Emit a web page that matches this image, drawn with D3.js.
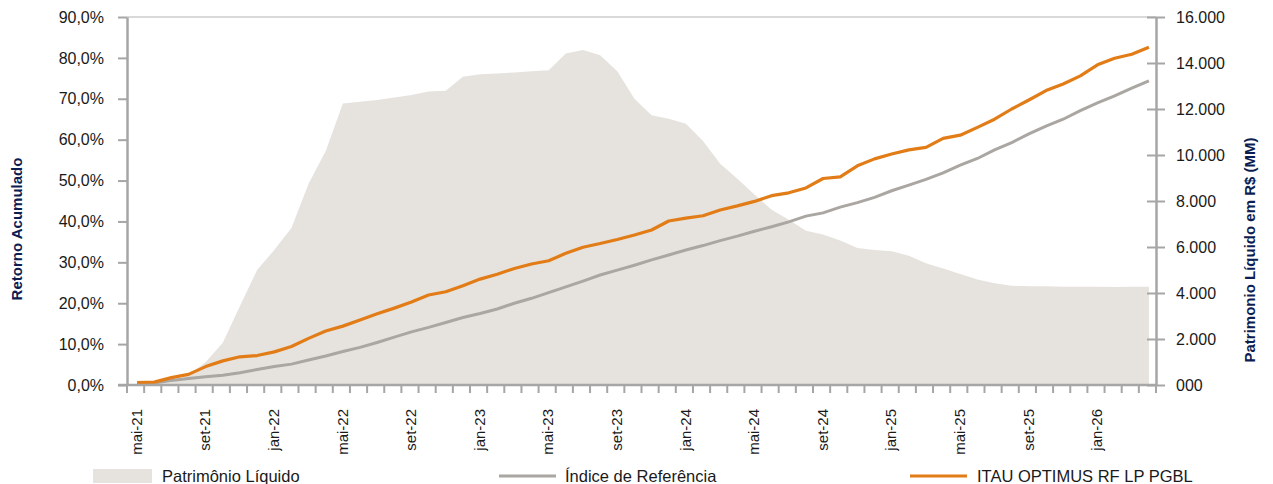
<!DOCTYPE html>
<html>
<head>
<meta charset="utf-8">
<script src="https://cdn.jsdelivr.net/npm/d3@7"></script>
<style>
  body { margin: 0; background: #fff; }
  svg text { font-family: "Liberation Sans", Arial, sans-serif; }
</style>
</head>
<body>
<div id="chart"></div>
<script>
// months (category axis)
var months = ["mai-21","jun-21","jul-21","ago-21","set-21","out-21","nov-21","dez-21",
  "jan-22","fev-22","mar-22","abr-22","mai-22","jun-22","jul-22","ago-22","set-22","out-22","nov-22","dez-22",
  "jan-23","fev-23","mar-23","abr-23","mai-23","jun-23","jul-23","ago-23","set-23","out-23","nov-23","dez-23",
  "jan-24","fev-24","mar-24","abr-24","mai-24","jun-24","jul-24","ago-24","set-24","out-24","nov-24","dez-24",
  "jan-25","fev-25","mar-25","abr-25","mai-25","jun-25","jul-25","ago-25","set-25","out-25","nov-25","dez-25",
  "jan-26","fev-26","mar-26","abr-26"];

// Patrimonio Liquido, R$ MM (right axis)
var patrimonio = [20,40,120,420,1000,1840,3440,5000,5870,6830,8750,10170,12240,12320,12390,12500,12610,12760,12790,13400,
  13510,13540,13590,13640,13690,14410,14560,14340,13640,12450,11730,11580,11360,10610,9620,8970,8280,7620,7180,6710,
  6540,6280,5960,5870,5810,5620,5290,5070,4830,4590,4420,4320,4290,4290,4270,4270,4270,4260,4270,4270];

// Indice de Referencia, % acumulado
var indice = [0.2,0.5,1.1,1.6,2.0,2.4,3.0,3.8,4.5,5.1,6.1,7.1,8.2,9.2,10.4,11.7,13.0,14.1,15.3,16.5,
  17.5,18.6,20.0,21.2,22.6,24.0,25.4,26.9,28.1,29.3,30.6,31.8,33.0,34.1,35.3,36.4,37.6,38.7,39.9,41.3,
  42.1,43.5,44.6,45.9,47.5,48.9,50.3,51.9,53.8,55.4,57.5,59.3,61.4,63.3,65.0,67.1,69.0,70.7,72.6,74.4];

// ITAU OPTIMUS RF LP PGBL, % acumulado
var fundo = [0.6,0.7,1.8,2.6,4.5,5.9,6.9,7.2,8.1,9.4,11.4,13.2,14.4,15.9,17.4,18.8,20.3,22.0,22.8,24.3,
  25.9,27.1,28.5,29.6,30.4,32.2,33.7,34.6,35.6,36.7,37.9,40.1,40.8,41.4,42.8,43.8,44.9,46.3,47.0,48.2,
  50.5,50.9,53.6,55.3,56.5,57.5,58.1,60.3,61.1,63.0,65.0,67.5,69.7,72.0,73.6,75.6,78.3,79.9,80.9,82.6];

// tick labels
var leftTicks = [0,10,20,30,40,50,60,70,80,90];
var leftTickLabels = ["0,0%","10,0%","20,0%","30,0%","40,0%","50,0%","60,0%","70,0%","80,0%","90,0%"];
var rightTicks = [0,2000,4000,6000,8000,10000,12000,14000,16000];
var rightTickLabels = ["000","2.000","4.000","6.000","8.000","10.000","12.000","14.000","16.000"];

var W = 1273, H = 484;
var margin = {top: 17, right: 117, bottom: 99, left: 127};

var svg = d3.select("#chart").append("svg")
    .attr("width", W)
    .attr("height", H);

var x = d3.scaleBand()
    .domain(months)
    .range([margin.left, W - margin.right]);

var yL = d3.scaleLinear().domain([0, 90]).range([H - margin.bottom, margin.top]);
var yR = d3.scaleLinear().domain([0, 16000]).range([H - margin.bottom, margin.top]);

var cx = function(i) { return x(months[i]) + x.bandwidth() / 2 + 1.5; };

var axisColor = "#a6a6a6";

// top border line
svg.append("line")
    .attr("x1", margin.left).attr("x2", W - margin.right)
    .attr("y1", yL(90)).attr("y2", yL(90))
    .attr("stroke", "#d9d9d9").attr("stroke-width", 2);

// area - patrimonio
var area = d3.area()
    .x(function(d, i) { return cx(i); })
    .y0(yR(0))
    .y1(function(d) { return yR(d); });

svg.append("path")
    .datum(patrimonio)
    .attr("fill", "#e6e3df")
    .attr("d", area);

// lines
var lineL = d3.line()
    .x(function(d, i) { return cx(i); })
    .y(function(d) { return yL(d); });

svg.append("path")
    .datum(indice)
    .attr("fill", "none")
    .attr("stroke", "#aaa6a1")
    .attr("stroke-width", 3)
    .attr("d", lineL);

svg.append("path")
    .datum(fundo)
    .attr("fill", "none")
    .attr("stroke", "#e27c16")
    .attr("stroke-width", 3.2)
    .attr("stroke-linejoin", "round")
    .attr("d", lineL);

// left axis
var gL = svg.append("g")
    .attr("transform", "translate(" + margin.left + ",0)")
    .call(d3.axisLeft(yL).tickValues(leftTicks).tickSizeOuter(0).tickSizeInner(9).tickPadding(14)
        .tickFormat(function(d, i) { return leftTickLabels[i]; }));

// right axis
var gR = svg.append("g")
    .attr("transform", "translate(" + (W - margin.right) + ",0)")
    .call(d3.axisRight(yR).tickValues(rightTicks).tickSizeOuter(0).tickSizeInner(9).tickPadding(11)
        .tickFormat(function(d, i) { return rightTickLabels[i]; }));
gR.selectAll(".tick line").attr("x1", -9);

[gL, gR].forEach(function(g) {
    g.select(".domain").attr("stroke", axisColor).attr("stroke-width", 2.5);
    g.selectAll(".tick line").attr("stroke", axisColor).attr("stroke-width", 2);
    g.selectAll(".tick text").attr("font-size", "16px").attr("fill", "#1a1a1a");
});

// bottom axis: baseline + ticks on band boundaries
var xb = svg.append("g");
xb.append("line")
    .attr("x1", margin.left - 9).attr("x2", W - margin.right)
    .attr("y1", yL(0)).attr("y2", yL(0))
    .attr("stroke", axisColor).attr("stroke-width", 2.5);

var bounds = months.map(function(m) { return x(m); }).concat([x.range()[1]]);
xb.selectAll(".xtick")
    .data(bounds)
    .enter().append("line")
    .attr("class", "xtick")
    .attr("x1", function(d) { return d; }).attr("x2", function(d) { return d; })
    .attr("y1", yL(0)).attr("y2", yL(0) + 8)
    .attr("stroke", axisColor).attr("stroke-width", 2);

xb.selectAll(".xlabel")
    .data(months.filter(function(m, i) { return i % 4 === 0; }))
    .enter().append("text")
    .attr("class", "xlabel")
    .attr("transform", function(d) {
        return "translate(" + (x(d) + x.bandwidth() / 2 + 1) + "," + (yL(0) + 24) + ") rotate(-90)";
    })
    .attr("text-anchor", "end")
    .attr("dy", "0.35em")
    .attr("font-size", "15px")
    .attr("fill", "#1a1a1a")
    .text(function(d) { return d; });

// axis titles
svg.append("text")
    .attr("transform", "translate(17," + 229 + ") rotate(-90)")
    .attr("text-anchor", "middle")
    .attr("dy", "0.35em")
    .attr("font-size", "15px")
    .attr("font-weight", "bold")
    .attr("fill", "#0c1d52")
    .text("Retorno Acumulado");

svg.append("text")
    .attr("transform", "translate(1250," + 250 + ") rotate(-90)")
    .attr("text-anchor", "middle")
    .attr("dy", "0.35em")
    .attr("font-size", "15px")
    .attr("font-weight", "bold")
    .attr("fill", "#0c1d52")
    .text("Patrimonio Líquido em R$ (MM)");

// legend
var legY = 476;
var leg = svg.append("g").attr("font-size", "16.5px").attr("fill", "#1a1a1a");
leg.append("rect").attr("x", 93).attr("y", legY - 7).attr("width", 59).attr("height", 14).attr("fill", "#e6e3df");
leg.append("text").attr("x", 162).attr("y", legY).attr("dy", "0.35em").text("Patrimônio Líquido");
leg.append("line").attr("x1", 499).attr("x2", 556).attr("y1", legY).attr("y2", legY)
    .attr("stroke", "#aaa6a1").attr("stroke-width", 3);
leg.append("text").attr("x", 565).attr("y", legY).attr("dy", "0.35em").text("Índice de Referência");
leg.append("line").attr("x1", 910).attr("x2", 967).attr("y1", legY).attr("y2", legY)
    .attr("stroke", "#e27c16").attr("stroke-width", 3);
leg.append("text").attr("x", 977).attr("y", legY).attr("dy", "0.35em").text("ITAU OPTIMUS RF LP PGBL");
</script>
</body>
</html>
